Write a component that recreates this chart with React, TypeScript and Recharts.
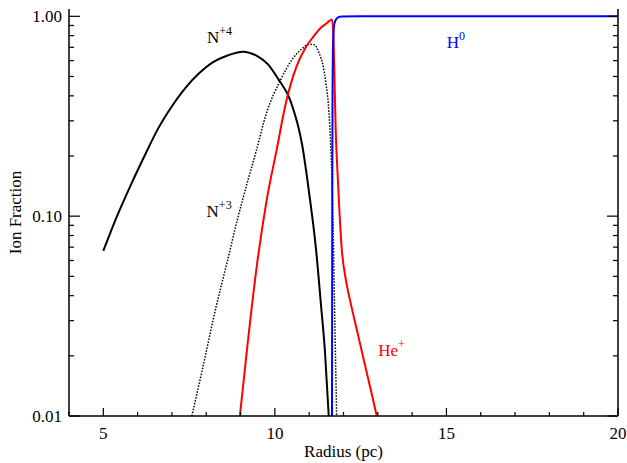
import React from "react";
import {
  LineChart,
  Line,
  XAxis,
  YAxis,
  ReferenceDot,
  Label,
} from "recharts";

const FONT = "'Liberation Serif', 'Times New Roman', Times, serif";
const textStyle = { fontFamily: FONT, fontSize: 17 };

// tick values
const xTicks = [4, 5, 6, 7, 8, 9, 10, 11, 12, 13, 14, 15, 16, 17, 18, 19, 20];
const xMajor = [5, 10, 15, 20];
const yTicks = [
  0.01, 0.02, 0.03, 0.04, 0.05, 0.06, 0.07, 0.08, 0.09,
  0.1, 0.2, 0.3, 0.4, 0.5, 0.6, 0.7, 0.8, 0.9, 1,
];
const yMajor = [0.01, 0.1, 1];

// N+4 (solid black)
const n4X = [5.0, 5.4, 5.8, 6.2, 6.6, 7.0, 7.4, 7.8, 8.2, 8.6, 9.07, 9.5, 9.8, 10.1, 10.45, 10.8, 11.0, 11.2, 11.35, 11.46, 11.57];
const n4Y = [0.067, 0.1, 0.143, 0.2, 0.275, 0.355, 0.44, 0.52, 0.59, 0.635, 0.665, 0.63, 0.575, 0.485, 0.38, 0.225, 0.13, 0.068, 0.035, 0.021, 0.01];

// N+3 (dotted black)
const n3X = [7.58, 7.9, 8.3, 8.6, 8.9, 9.2, 9.45, 9.76, 10.15, 10.54, 10.8, 11.0, 11.15, 11.28, 11.41, 11.49, 11.56, 11.62, 11.66, 11.7, 11.75, 11.8];
const n3Y = [0.01, 0.0175, 0.036, 0.058, 0.095, 0.148, 0.21, 0.33, 0.475, 0.62, 0.69, 0.725, 0.72, 0.66, 0.56, 0.46, 0.36, 0.24, 0.16, 0.082, 0.028, 0.01];

// He+ (red)
const heX = [8.98, 9.2, 9.47, 9.76, 10.05, 10.34, 10.63, 10.9, 11.12, 11.35, 11.51, 11.66, 11.7, 11.73, 11.77, 11.84, 11.95, 12.06, 12.19, 12.4, 12.6, 12.8, 12.97];
const heY = [0.01, 0.0225, 0.0557, 0.12, 0.214, 0.381, 0.56, 0.7, 0.79, 0.88, 0.923, 0.965, 0.85, 0.56, 0.28, 0.148, 0.068, 0.049, 0.038, 0.0265, 0.0188, 0.0134, 0.01];

// H0 (blue)
const h0X = [11.665, 11.672, 11.68, 11.69, 11.72, 11.76, 11.83, 11.95, 12.5, 16, 20];
const h0Y = [0.01, 0.1, 0.4, 0.65, 0.88, 0.95, 0.985, 0.997, 1.0, 1.0, 1.0];

const zip = (xs: number[], ys: number[]) => xs.map((x, i) => ({ x, y: ys[i] }));

const n4Data = zip(n4X, n4Y);
const n3Data = zip(n3X, n3Y);
const heData = zip(heX, heY);
const h0Data = zip(h0X, h0Y);

const near = (list: number[], v: number) => list.some((m) => Math.abs(m - v) < 1e-9);

function BottomTick(props: any) {
  const { x, y, payload } = props;
  const major = near(xMajor, payload.value);
  return (
    <g>
      <line x1={x} y1={y} x2={x} y2={y - (major ? 8 : 4)} stroke="#000" strokeWidth={1.2} />
      {major && (
        <text x={x} y={y + 23} textAnchor="middle" style={textStyle} fill="#000">
          {payload.value}
        </text>
      )}
    </g>
  );
}

function TopTick(props: any) {
  const { x, y, payload } = props;
  const major = near(xMajor, payload.value);
  return <line x1={x} y1={y} x2={x} y2={y + (major ? 8 : 4)} stroke="#000" strokeWidth={1.2} />;
}

function LeftTick(props: any) {
  const { x, y, payload } = props;
  const major = near(yMajor, payload.value);
  return (
    <g>
      <line x1={x} y1={y} x2={x + (major ? 11 : 5)} y2={y} stroke="#000" strokeWidth={1.2} />
      {major && (
        <text x={x - 7} y={y} dy="0.35em" textAnchor="end" style={textStyle} fill="#000">
          {payload.value.toFixed(2)}
        </text>
      )}
    </g>
  );
}

function RightTick(props: any) {
  const { x, y, payload } = props;
  const major = near(yMajor, payload.value);
  return <line x1={x} y1={y} x2={x - (major ? 11 : 5)} y2={y} stroke="#000" strokeWidth={1.2} />;
}

const supLabel = (base: string, sup: string, color: string) => (p: any) => {
  const { x, y } = p.viewBox;
  return (
    <text x={x} y={y} fill={color} style={textStyle}>
      {base}
      <tspan dy={-8} style={{ fontFamily: FONT, fontSize: 12 }}>
        {sup}
      </tspan>
    </text>
  );
};

export default function App() {
  const axisLine = { stroke: "#000", strokeWidth: 1.5 };
  return (
    <div style={{ position: "absolute", left: 0, top: 0, width: 627, height: 463, background: "#fff" }}>
      <LineChart width={627} height={463} margin={{ top: 9, right: 0, bottom: 0, left: 0 }}>
        <XAxis
          dataKey="x"
          type="number"
          domain={[4, 20]}
          allowDataOverflow
          ticks={xTicks}
          interval={0}
          height={47}
          tickSize={0}
          tickMargin={0}
          axisLine={axisLine}
          tick={<BottomTick />}
        >
          <Label
            content={(p: any) => {
              const vb = p.viewBox;
              return (
                <text x={vb.x + vb.width / 2} y={vb.y + 41} textAnchor="middle" style={textStyle} fill="#000">
                  Radius (pc)
                </text>
              );
            }}
          />
        </XAxis>
        <XAxis
          xAxisId="top"
          orientation="top"
          type="number"
          domain={[4, 20]}
          allowDataOverflow
          ticks={xTicks}
          interval={0}
          height={0}
          tickSize={0}
          tickMargin={0}
          axisLine={axisLine}
          tick={<TopTick />}
        />
        <YAxis
          scale="log"
          type="number"
          domain={[0.01, 1.088]}
          allowDataOverflow
          ticks={yTicks}
          interval={0}
          width={69}
          tickSize={0}
          tickMargin={0}
          axisLine={axisLine}
          tick={<LeftTick />}
        >
          <Label
            content={(p: any) => {
              const vb = p.viewBox;
              const cx = vb.x + 21;
              const cy = vb.y + vb.height / 2;
              return (
                <text
                  x={cx}
                  y={cy}
                  transform={`rotate(-90 ${cx} ${cy})`}
                  textAnchor="middle"
                  style={textStyle}
                  fill="#000"
                >
                  Ion Fraction
                </text>
              );
            }}
          />
        </YAxis>
        <YAxis
          yAxisId="right"
          orientation="right"
          scale="log"
          type="number"
          domain={[0.01, 1.088]}
          allowDataOverflow
          ticks={yTicks}
          interval={0}
          width={9}
          tickSize={0}
          tickMargin={0}
          axisLine={axisLine}
          tick={<RightTick />}
        />
        <Line data={n4Data} dataKey="y" type="monotone" stroke="#000" strokeWidth={2} dot={false} isAnimationActive={false} />
        <Line
          data={n3Data}
          dataKey="y"
          type="monotone"
          stroke="#000"
          strokeWidth={1.5}
          strokeDasharray="1.5 1.5"
          dot={false}
          isAnimationActive={false}
        />
        <Line data={heData} dataKey="y" type="monotone" stroke="#ff0000" strokeWidth={2} dot={false} isAnimationActive={false} />
        <Line data={h0Data} dataKey="y" type="monotone" stroke="#0000ff" strokeWidth={2} dot={false} isAnimationActive={false} />
        <ReferenceDot x={8.02} y={0.735} r={0} fill="none" stroke="none" label={supLabel("N", "+4", "#000")} />
        <ReferenceDot x={8.01} y={0.0992} r={0} fill="none" stroke="none" label={supLabel("N", "+3", "#000")} />
        <ReferenceDot x={15.01} y={0.691} r={0} fill="none" stroke="none" label={supLabel("H", "0", "#0000ff")} />
        <ReferenceDot x={13.01} y={0.0199} r={0} fill="none" stroke="none" label={supLabel("He", "+", "#ff0000")} />
      </LineChart>
    </div>
  );
}
